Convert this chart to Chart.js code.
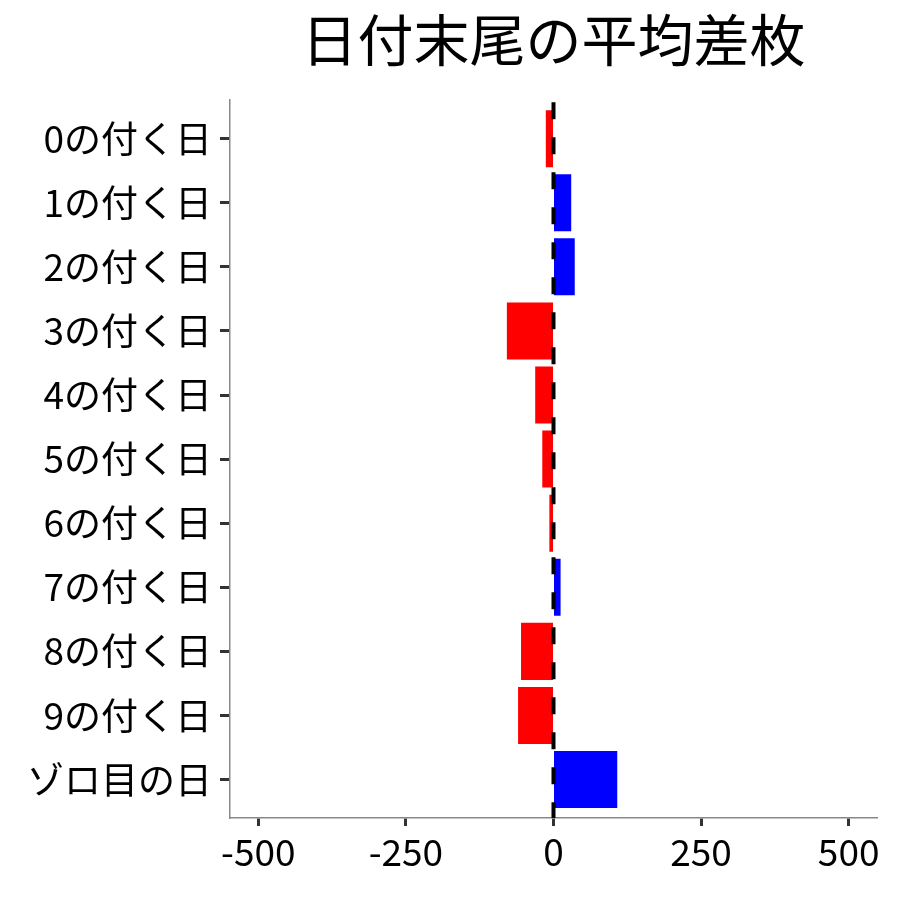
<!DOCTYPE html>
<html>
<head>
<meta charset="utf-8">
<script src="https://cdn.jsdelivr.net/npm/chart.js@4"></script>
<style>
html,body{margin:0;padding:0;background:#fff;}
#wrap{width:900px;height:900px;position:relative;}
</style>
</head>
<body>
<div id="wrap"><canvas id="c" width="900" height="900"></canvas></div>
<script>
const categories = ["0の付く日","1の付く日","2の付く日","3の付く日","4の付く日","5の付く日","6の付く日","7の付く日","8の付く日","9の付く日","ゾロ目の日"];
const diffValues = [-13, 30, 36, -79, -31, -19, -7, 12, -55, -60, 108];
const xTicks = [-500, -250, 0, 250, 500];
const titleText = "日付末尾の平均差枚";

const FONT = "'Noto Sans CJK JP', 'Noto Sans', sans-serif";

const zeroLine = {
  id: 'zeroLine',
  afterDatasetsDraw(chart) {
    const ctx = chart.ctx, xs = chart.scales.x, a = chart.chartArea;
    const px = xs.getPixelForValue(0);
    ctx.save();
    ctx.strokeStyle = '#000';
    ctx.lineWidth = 4;
    ctx.setLineDash([17, 18]);
    ctx.lineDashOffset = -2;
    ctx.beginPath();
    ctx.moveTo(px, a.top);
    ctx.lineTo(px, a.bottom);
    ctx.stroke();
    ctx.restore();
  }
};

new Chart(document.getElementById('c'), {
  type: 'bar',
  data: {
    datasets: [{
      data: diffValues.map((v, i) => ({x: v, y: i})),
      backgroundColor: diffValues.map(v => v >= 0 ? '#0000FF' : '#FF0000'),
      borderWidth: 0,
      categoryPercentage: 1.0,
      barPercentage: 0.89
    }]
  },
  options: {
    indexAxis: 'y',
    responsive: false,
    animation: false,
    devicePixelRatio: 1,
    layout: { padding: { top: 6, right: 23, bottom: 0, left: 0 } },
    plugins: {
      legend: { display: false },
      tooltip: { enabled: false },
      title: {
        display: true,
        text: titleText,
        fullSize: false,
        color: '#000',
        font: { family: FONT, size: 56, weight: 'normal' },
        padding: { top: 0, bottom: 27 }
      }
    },
    scales: {
      x: {
        type: 'linear',
        min: -548,
        max: 548,
        afterBuildTicks: s => { s.ticks = xTicks.map(v => ({value: v})); },
        afterFit: s => { s.height = 82; },
        ticks: { color: '#000', font: { family: FONT, size: 37 }, padding: 4, maxRotation: 0 },
        grid: { drawOnChartArea: false, drawTicks: true, tickLength: 8, tickWidth: 3, tickColor: '#333', color: '#333' },
        border: { display: true, color: '#888', width: 1.5 }
      },
      y: {
        type: 'linear',
        reverse: true,
        offset: false,
        min: -0.6,
        max: categories.length - 1 + 0.6,
        afterBuildTicks: s => { s.ticks = categories.map((c, i) => ({value: i})); },
        afterFit: s => { s.width = 230; },
        ticks: { color: '#000', font: { family: FONT, size: 37 }, padding: 8, callback: v => categories[v] },
        grid: { offset: false, drawOnChartArea: false, drawTicks: true, tickLength: 10, tickWidth: 3, tickColor: '#333', color: '#333' },
        border: { display: true, color: '#888', width: 1.5 }
      }
    }
  },
  plugins: [zeroLine]
});
</script>
</body>
</html>
